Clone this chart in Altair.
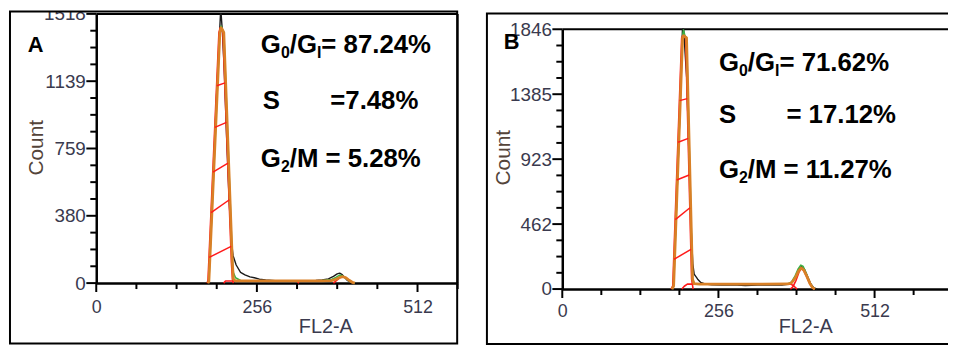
import altair as alt
import pandas as pd

FONT = "Liberation Sans"
LABEL = "#3a3a4e"
TITLE_COUNT = "#54443a"
TITLE_FL = "#3a3a4e"
ORANGE = "#d98026"
RED = "#ff1a1a"
GREEN = "#3cb043"
BLACK = "#1a1a1a"
TICK = "black"

# ---------------- Panel A data (FL2-A channel, Count) ----------------
A_black_x = [176, 179, 183, 187, 191, 195, 198, 199, 201, 204, 208, 212, 215, 218, 223, 230, 237, 245, 252, 260,
             270, 280, 290, 300, 310, 320, 330, 340, 350, 360, 370, 378, 384, 388, 392, 396, 400, 406, 412]
A_black_y = [0, 15, 300, 650, 1000, 1300, 1518, 1518, 1420, 1200, 800, 450, 250, 156, 102, 60, 46, 35, 30, 22,
             18, 15, 12, 10, 10, 10, 12, 14, 15, 18, 24, 38, 52, 56, 48, 32, 16, 5, 0]
A_green_x = [178, 179.5, 197, 199, 201, 203.3, 216.9, 218.5, 222, 230, 250, 320, 360, 375, 382, 388, 392, 397, 402, 408, 412]
A_green_y = [0, 10, 1420, 1450, 1430, 1412, 130, 60, 30, 15, 12, 12, 14, 20, 32, 45, 42, 30, 15, 3, 0]
A_orange_x = [178, 179.5, 197, 199, 201, 203.3, 216.9, 218.5, 222, 250, 320, 360, 375, 382, 388, 393, 398, 403, 408, 412]
A_orange_y = [0, 10, 1412, 1440, 1430, 1412, 117, 22, 12, 12, 12, 12, 14, 22, 32, 36, 30, 16, 5, 0]
A_red_g1_x = [176.5, 178, 195.5, 197.5, 199.5, 201.8, 215.4, 217, 218.5]
A_red_g1_y = [0, 10, 1412, 1440, 1430, 1412, 117, 22, 0]
A_red_s_x = [203, 206, 320, 323]
A_red_s_y = [0, 12, 12, 0]
A_red_g2_x = [378, 383, 388, 393, 398, 403, 408, 411]
A_red_g2_y = [0, 15, 30, 36, 30, 16, 4, 0]
A_hatch_x1 = [180.0, 183.0, 186.0, 189.0, 192.0]
A_hatch_y1 = [145, 397, 626, 878, 1113]
A_hatch_x2 = [215.0, 212.2, 210.0, 207.6, 205.3]
A_hatch_y2 = [207, 470, 677, 906, 1129]
A_yticks = [0, 379.5, 759, 1138.5, 1518]
A_xticks = [0, 256, 512]

# ---------------- Panel B data ----------------
B_black_x = [180, 182, 186, 190, 194, 197, 199, 201, 204, 208, 211, 214, 216.2, 222, 227, 235, 245, 260, 280, 300,
             320, 340, 360, 370, 377, 383, 388, 392, 397, 402, 407, 412, 418]
B_black_y = [0, 15, 440, 900, 1400, 1846, 1846, 1700, 1500, 900, 450, 180, 106, 70, 47, 35, 30, 28, 30, 25,
             28, 30, 28, 34, 50, 90, 140, 160, 140, 90, 40, 10, 0]
B_green_x = [180, 182.6, 197.2, 198.8, 201, 203.7, 213.5, 216, 225, 300, 370, 376, 382, 387, 391, 395, 400, 405, 410, 414]
B_green_y = [0, 23, 1800, 1840, 1800, 1785, 75, 40, 36, 36, 38, 50, 95, 145, 170, 160, 110, 50, 15, 0]
B_orange_x = [180, 182.6, 197.2, 199, 201, 203.7, 213.5, 216, 225, 300, 370, 376, 382, 387, 392, 396, 401, 406, 410, 414]
B_orange_y = [0, 23, 1785, 1800, 1795, 1785, 70, 38, 35, 35, 36, 45, 80, 125, 150, 135, 90, 40, 12, 0]
B_red_g1_x = [178.5, 181.1, 195.7, 197.5, 199.5, 202.2, 212, 214.5]
B_red_g1_y = [0, 23, 1785, 1800, 1795, 1785, 70, 0]
B_red_s_x = [196, 200, 205, 375, 380, 385]
B_red_s_y = [0, 20, 35, 35, 20, 0]
B_red_g2_x = [374, 378, 383, 388, 392, 396, 401, 406, 410, 414]
B_red_g2_y = [0, 15, 60, 120, 145, 130, 85, 35, 8, 0]
B_hatch_x1 = [183.0, 185.3, 187.6, 189.9, 192.3]
B_hatch_y1 = [211, 493, 775, 1043, 1339]
B_hatch_x2 = [211.0, 209.3, 208.0, 206.5, 204.9]
B_hatch_y2 = [282, 578, 810, 1071, 1353]
B_yticks = [0, 461.5, 923, 1384.5, 1846]
B_xticks = [0, 256, 512]

# ---------------- layout (pixels in the chart group) ----------------
W, H = 948, 339
one = pd.DataFrame({"k": [0]})

xA = alt.Scale(domain=[0, 576], range=[89, 453.5], nice=False, zero=False)
yA = alt.Scale(domain=[0, 1518], range=[276, 4.5], nice=False, zero=False)
xB = alt.Scale(domain=[0, 640], range=[559, 952.7], nice=False, zero=False)
yB = alt.Scale(domain=[0, 1846], range=[282, 20], nice=False, zero=False)


def line_df(*pairs):
    rows = []
    for s, (xs, ys) in enumerate(pairs):
        for i, (a, b) in enumerate(zip(xs, ys)):
            rows.append({"x": a, "y": b, "seg": s, "i": i})
    return pd.DataFrame(rows)


def line_layer(df, xs, ys, color, width, xaxis=None, yaxis=None):
    return alt.Chart(df).mark_line(color=color, strokeWidth=width, strokeJoin="round").encode(
        x=alt.X("x:Q", scale=xs, axis=xaxis),
        y=alt.Y("y:Q", scale=ys, axis=yaxis),
        detail="seg:N",
        order="i:Q",
    )


def x_axis(offset, values, title_x, title_y, pad):
    return alt.Axis(orient="bottom", offset=offset, values=values, format="d", grid=False,
                    domainColor="black", domainWidth=2.5, ticks=False,
                    labelFont=FONT, labelFontSize=18, labelColor=LABEL, labelPadding=pad + 9,
                    labelFlush=False, labelOverlap=False,
                    title="FL2-A", titleFont=FONT, titleFontSize=20, titleFontWeight="normal",
                    titleColor=TITLE_FL, titleX=title_x, titleY=title_y, titleAlign="center",
                    titleBaseline="middle")


def y_axis(offset, values, title_x, title_y):
    return alt.Axis(orient="left", offset=offset, values=values, format="d", grid=False,
                    domainColor="black", domainWidth=2.5, ticks=False,
                    labelFont=FONT, labelFontSize=19, labelColor=LABEL, labelPadding=11,
                    labelFlush=False, labelOverlap=False,
                    title="Count", titleFont=FONT, titleFontSize=21, titleFontWeight="normal",
                    titleColor=TITLE_COUNT, titleX=title_x, titleY=title_y, titleAngle=270,
                    titleAlign="center", titleBaseline="middle")


def y_ticks(vals, ys, axis_x, length):
    return alt.Chart(pd.DataFrame({"v": vals})).mark_tick(
        color=TICK, thickness=2, size=length, orient="horizontal", xOffset=-length / 2.0, opacity=1
    ).encode(y=alt.Y("v:Q", scale=ys, axis=None), x=alt.value(axis_x))


def x_ticks(vals, xs, axis_y, length):
    return alt.Chart(pd.DataFrame({"v": vals})).mark_tick(
        color=TICK, thickness=2, size=length, orient="vertical", yOffset=length / 2.0, opacity=1
    ).encode(x=alt.X("v:Q", scale=xs, axis=None), y=alt.value(axis_y))


def minor_y_vals(ymax):
    step = ymax / 16.0
    return [i * step for i in range(1, 16) if i % 4 != 0]


def minor_x_vals(xmax):
    return [v for v in range(64, xmax + 1, 64) if v % 256 != 0]


def hatch(x1, y1, x2, y2, xs, ys):
    df = pd.DataFrame({"x1": x1, "y1": y1, "x2": x2, "y2": y2})
    return alt.Chart(df).mark_rule(color=RED, strokeWidth=1.5).encode(
        x=alt.X("x1:Q", scale=xs, axis=None), y=alt.Y("y1:Q", scale=ys, axis=None),
        x2="x2:Q", y2="y2:Q")


def box(x1, x2, y1, y2, width=2):
    return alt.Chart(one).mark_rect(fillOpacity=0, stroke="black", strokeWidth=width).encode(
        x=alt.value(x1), x2=alt.value(x2), y=alt.value(y1), y2=alt.value(y2))


def hline(x1, x2, y, width=2):
    return alt.Chart(one).mark_rule(color="black", strokeWidth=width).encode(
        x=alt.value(x1), x2=alt.value(x2), y=alt.value(y))


def vline(x, y1, y2, width=2):
    return alt.Chart(one).mark_rule(color="black", strokeWidth=width).encode(
        x=alt.value(x), y=alt.value(y1), y2=alt.value(y2))


ADV = {"G": 0.778, "S": 0.667, "M": 0.833, "I": 0.278, "/": 0.278, "=": 0.584, " ": 0.278,
       ".": 0.278, "%": 0.889, "A": 0.722, "B": 0.722}
for d in "0123456789":
    ADV[d] = 0.556


def rich(parts, x0, y0, main=26, sub=16, drop=5):
    out = []
    x = x0
    for t, is_sub in parts:
        fs = sub if is_sub else main
        out.append(alt.Chart(one).mark_text(text=t, align="left", baseline="alphabetic", font=FONT,
                                            fontSize=fs, fontWeight="bold", color="black").encode(
            x=alt.value(x), y=alt.value(y0 + (drop if is_sub else 0))))
        x += sum(ADV[c] for c in t) * fs
    return out


def label(t, x, y, size=22):
    return alt.Chart(one).mark_text(text=t, align="left", baseline="alphabetic", font=FONT,
                                    fontSize=size, fontWeight="bold", color="black").encode(
        x=alt.value(x), y=alt.value(y))


layers = []

# ---- Panel A ----
layers.append(alt.Chart(one).mark_rect(color="white").encode(
    x=alt.value(30), x2=alt.value(88), y=alt.value(-10), y2=alt.value(1.5)))
layers.append(box(2, 453, 2, 337))
layers.append(hline(89, 453.5, 4.5))
layers.append(vline(453.5, 4.5, 276))
layers.append(y_ticks(minor_y_vals(1518), yA, 89, 6))
layers.append(y_ticks(A_yticks, yA, 89, 10))
layers.append(x_ticks(minor_x_vals(576), xA, 276, 6))
layers.append(x_ticks(A_xticks, xA, 276, 9))
layers.append(line_layer(line_df((A_black_x, A_black_y)), xA, yA, BLACK, 1.4,
                         xaxis=x_axis(-63, A_xticks, 320, 44, 7), yaxis=y_axis(-89, A_yticks, -60, 139)))
layers.append(line_layer(line_df((A_green_x, A_green_y)), xA, yA, GREEN, 1.6))
layers.append(line_layer(line_df((A_red_g1_x, A_red_g1_y), (A_red_s_x, A_red_s_y), (A_red_g2_x, A_red_g2_y)),
                         xA, yA, RED, 1.6))
layers.append(line_layer(line_df((A_orange_x, A_orange_y)), xA, yA, ORANGE, 2.8))
layers.append(hatch(A_hatch_x1, A_hatch_y1, A_hatch_x2, A_hatch_y2, xA, yA))
layers.append(label("A", 20, 43))
layers += rich([("G", False), ("0", True), ("/G", False), ("I", True), ("= 87.24%", False)], 255, 44)
layers += rich([("S", False)], 257, 100)
layers += rich([("=7.48%", False)], 325, 100)
layers += rich([("G", False), ("2", True), ("/M = 5.28%", False)], 255, 159)

# ---- Panel B ----
layers.append(box(483, 960, 4, 337.5))
layers.append(hline(559, 960, 20))
layers.append(y_ticks(minor_y_vals(1846), yB, 559, 6))
layers.append(y_ticks(B_yticks, yB, 559, 10))
layers.append(x_ticks(minor_x_vals(640), xB, 282, 6))
layers.append(x_ticks(B_xticks, xB, 282, 9))
layers.append(line_layer(line_df((B_black_x, B_black_y)), xB, yB, BLACK, 1.4,
                         xaxis=x_axis(-57, B_xticks, 804, 38, 5), yaxis=y_axis(-559, B_yticks, -59, 149)))
layers.append(line_layer(line_df((B_green_x, B_green_y)), xB, yB, GREEN, 1.6))
layers.append(line_layer(line_df((B_red_g1_x, B_red_g1_y), (B_red_s_x, B_red_s_y), (B_red_g2_x, B_red_g2_y)),
                         xB, yB, RED, 1.6))
layers.append(line_layer(line_df((B_orange_x, B_orange_y)), xB, yB, ORANGE, 2.8))
layers.append(hatch(B_hatch_x1, B_hatch_y1, B_hatch_x2, B_hatch_y2, xB, yB))
layers.append(label("B", 500, 40))
layers += rich([("G", False), ("0", True), ("/G", False), ("I", True), ("= 71.62%", False)], 717, 62)
layers += rich([("S", False)], 717, 115)
layers += rich([("= 17.12%", False)], 785, 115)
layers += rich([("G", False), ("2", True), ("/M = 11.27%", False)], 717, 170)

chart = alt.layer(*layers).resolve_scale(x="independent", y="independent").resolve_axis(
    x="independent", y="independent"
).properties(
    width=W, height=H, padding=0, autosize=alt.AutoSizeParams(type="none"), background="white"
).configure_view(stroke=None)

chart.save("out.html", embed_options={"renderer": "svg", "actions": False})
